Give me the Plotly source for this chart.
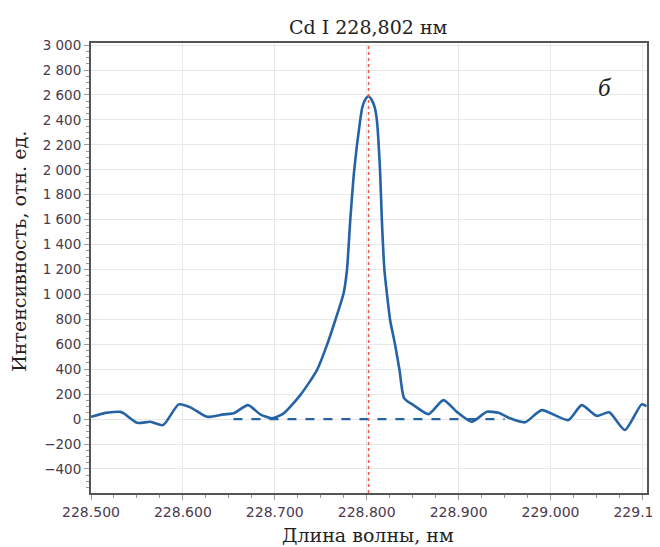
import plotly.graph_objects as go

# Spectrum data
wavelength = [228.500, 228.5158, 228.5321, 228.5357, 228.5502, 228.5647, 228.5785, 228.5954,
              228.6082, 228.6263, 228.6443, 228.6552, 228.6709, 228.6842, 228.6970, 228.7096,
              228.7277, 228.7459, 228.7567, 228.7658, 228.7748, 228.7785, 228.7821, 228.7864,
              228.7929, 228.7952, 228.7985, 228.8020, 228.8055, 228.8087, 228.8111, 228.8145,
              228.8165, 228.8193, 228.8220, 228.8255, 228.8310, 228.8357, 228.8408, 228.8509,
              228.8672, 228.8835, 228.8980, 228.9143, 228.9307, 228.9433, 228.9560, 228.9723,
              228.9904, 229.0193, 229.0339, 229.0502, 229.0639, 229.0810, 229.0991, 229.1045]
intensity = [18, 50, 58, 46, -30, -22, -48, 118,
             94, 18, 38, 46, 112, 38, 6, 46,
             192, 393, 593, 793, 1007, 1194, 1595, 1995,
             2396, 2500, 2565, 2590, 2560, 2500, 2396, 1995,
             1595, 1194, 1007, 793, 593, 393, 166, 112,
             40, 152, 58, -22, 58, 50, 6, -26,
             72, -8, 112, 26, 54, -88, 118, 104]

baseline_x = [228.655, 228.950]
baseline_y = [0, 0]

line_wavelength = 228.802
x_ticks = [228.5, 228.6, 228.7, 228.8, 228.9, 229.0, 229.1]
y_ticks = list(range(-400, 3001, 200))

title_text = "Cd I 228,802 нм"
x_title = "Длина волны, нм"
y_title = "Интенсивность, отн. ед."
panel_label = "<i>б</i>"

blue = "#2563a6"
tick_color = "#4a3a4c"
serif = "DejaVu Serif"

# page body has an 8px margin; figure sized to fit the window
OFF = 8
W, H = 660 - OFF, 547 - OFF
ML, MT = 90.5 - OFF, 42.5 - OFF
MR = W - (647 - OFF)
MB = H - (493 - OFF)
PW, PH = W - ML - MR, H - MT - MB


def px(sx):
    return (sx - OFF - ML) / PW


def py(sy):
    return (H - MB - (sy - OFF)) / PH


fig = go.Figure()
fig.add_trace(go.Scatter(x=wavelength, y=intensity, mode="lines",
                         line=dict(color=blue, width=2.6, shape="spline", smoothing=0.6),
                         showlegend=False, hoverinfo="skip"))
fig.add_trace(go.Scatter(x=baseline_x, y=baseline_y, mode="lines",
                         line=dict(color=blue, width=2.4, dash="dash"),
                         showlegend=False, hoverinfo="skip"))

fig.add_shape(type="line", xref="x", yref="paper", x0=line_wavelength, x1=line_wavelength,
              y0=0, y1=1, line=dict(color="#ee5a45", width=1.5, dash="dot"), layer="above")

fig.add_annotation(x=px(605), y=py(87), xref="paper", yref="paper",
                   text=panel_label, showarrow=False, xanchor="center", yanchor="middle",
                   font=dict(family="Liberation Serif", size=25, color="#222"))

fig.add_annotation(x=px(19), y=py(251), xref="paper", yref="paper",
                   text=y_title, showarrow=False, textangle=-90,
                   xanchor="center", yanchor="middle",
                   font=dict(family=serif, size=19, color="#222"))

fig.add_annotation(x=px(368), y=py(535), xref="paper", yref="paper",
                   text=x_title, showarrow=False, xanchor="center", yanchor="middle",
                   font=dict(family=serif, size=19, color="#222"))

fig.add_annotation(x=px(368), y=py(26), xref="paper", yref="paper",
                   text=title_text, showarrow=False, xanchor="center", yanchor="middle",
                   font=dict(family=serif, size=19, color="#222"))

fig.update_layout(
    width=W, height=H,
    margin=dict(l=ML, r=MR, t=MT, b=MB, autoexpand=False),
    paper_bgcolor="white", plot_bgcolor="white",
    separators=". ",
    xaxis=dict(range=[228.5, 229.105], tickvals=x_ticks, tickformat=".3f",
               automargin=False, ticklabeloverflow="allow",
               showgrid=True, gridcolor="#e8e8e8", gridwidth=1,
               showline=True, mirror=True, linecolor="#555", linewidth=2,
               ticks="outside", ticklen=5, tickcolor="#999",
               minor=dict(dtick=0.025, tick0=228.5, ticks="outside", ticklen=3, tickcolor="#999", showgrid=False),
               tickfont=dict(family="DejaVu Sans", size=14, color=tick_color),
               zeroline=False),
    yaxis=dict(range=[-593, 3017], tickvals=y_ticks, tickformat=",d",
               automargin=False, ticklabeloverflow="allow",
               showgrid=True, gridcolor="#e8e8e8", gridwidth=1,
               showline=True, mirror=True, linecolor="#555", linewidth=2,
               ticks="outside", ticklen=5, tickcolor="#999",
               minor=dict(dtick=50, tick0=0, ticks="outside", ticklen=3, tickcolor="#999", showgrid=False),
               tickfont=dict(family="DejaVu Sans", size=13.5, color=tick_color),
               zeroline=False),
)

fig.write_html("out.html")
